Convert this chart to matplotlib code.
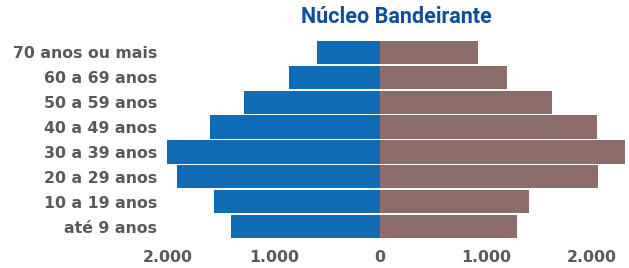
import matplotlib.pyplot as plt
import numpy as np
from matplotlib.ticker import FuncFormatter

# faixas etarias (de baixo para cima)
faixas = ['até 9 anos', '10 a 19 anos', '20 a 29 anos', '30 a 39 anos',
          '40 a 49 anos', '50 a 59 anos', '60 a 69 anos', '70 anos ou mais']
homens = [1406, 1566, 1915, 2009, 1604, 1283, 858, 594]
mulheres = [1292, 1406, 2057, 2311, 2047, 1623, 1198, 925]
ticks = [-2000, -1000, 0, 1000, 2000]

azul = '#106bb6'
marrom = '#8c6d6a'
cinza = '#595959'

plt.rcParams['font.family'] = ['DejaVu Sans']

fig = plt.figure(figsize=(6.29, 2.68), dpi=100)
ax = fig.add_axes([150/629, 1 - 239/268, 477/629, 199/268])

y = np.arange(len(faixas))
ax.barh(y, [-h for h in homens], height=0.93, color=azul)
ax.barh(y, mulheres, height=0.93, color=marrom)

ax.set_xlim(-2170, 2330)
ax.set_ylim(-0.5, len(faixas) - 0.5)
ax.set_yticks(y)
ax.set_yticklabels(faixas, fontsize=11.3, fontweight='bold', color=cinza)
ax.set_xticks(ticks)
ax.xaxis.set_major_formatter(FuncFormatter(lambda v, p: f'{abs(int(v)):,}'.replace(',', '.')))
for lab in ax.get_xticklabels():
    lab.set_fontsize(11.3)
    lab.set_fontweight('bold')
    lab.set_color(cinza)
ax.tick_params(axis='y', length=0, pad=-5)
ax.tick_params(axis='x', length=0, pad=8)
for s in ax.spines.values():
    s.set_visible(False)

fig.text(396/629, 1 - 17/268, 'Núcleo Bandeirante', ha='center', va='center',
         fontsize=15.5, fontweight='bold', color='#0d4f9e', family='Roboto')

fig.savefig('out.png', dpi=100)
